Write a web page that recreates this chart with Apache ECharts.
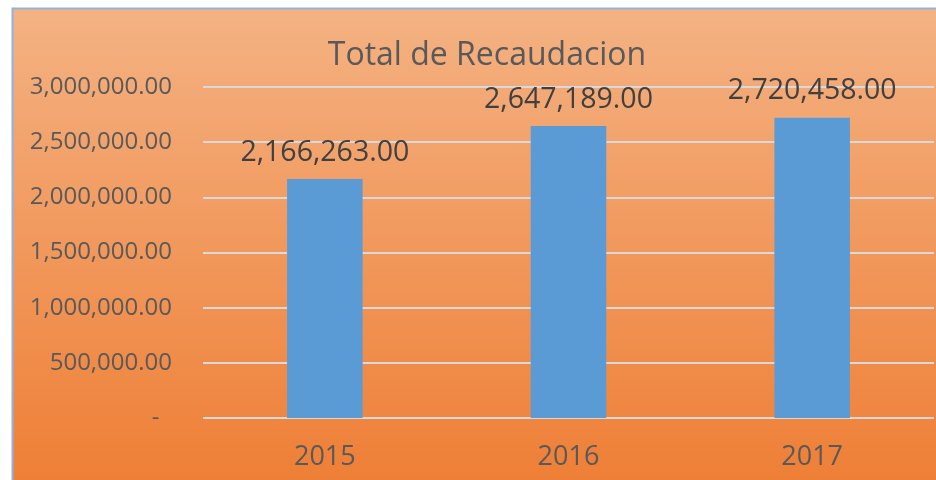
<!DOCTYPE html>
<html>
<head>
<meta charset="utf-8">
<script src="https://cdn.jsdelivr.net/npm/echarts@6/dist/echarts.min.js"></script>
<style>
  html, body { margin: 0; padding: 0; background: #fff; }
  #chart { width: 936px; height: 480px; }
</style>
</head>
<body>
<div id="chart"></div>
<script>
// datos
var years = ['2015', '2016', '2017'];
var recaudacion = [2166263, 2647189, 2720458];
var yMax = 3000000;
var yStep = 500000;

function fmtNum(v) {
    return v.toLocaleString('en-US', { minimumFractionDigits: 2, maximumFractionDigits: 2 });
}

var myChart = echarts.init(document.getElementById('chart'));
var option = {
    animation: false,
    // fondo degradado naranja con borde azul
    graphic: [{
        type: 'rect',
        z: -10,
        silent: true,
        shape: { x: 12.5, y: 8.5, width: 960, height: 490 },
        style: {
            fill: new echarts.graphic.LinearGradient(0, 0, 0, 1, [
                { offset: 0, color: '#f4b283' },
                { offset: 1, color: '#ee7d33' }
            ]),
            stroke: '#8db3e2',
            lineWidth: 2
        }
    }],
    title: {
        text: 'Total de Recaudacion',
        left: 482,
        textAlign: 'center',
        top: 35,
        textStyle: {
            color: '#595959',
            fontFamily: 'Open Sans',
            fontWeight: 'normal',
            fontSize: 32
        }
    },
    grid: {
        left: 203,
        right: 2,
        top: 87,
        bottom: 62
    },
    xAxis: {
        type: 'category',
        data: years,
        axisLine: { show: false },
        axisTick: { show: false },
        axisLabel: {
            color: '#595959',
            fontFamily: 'Open Sans',
            fontSize: 27,
            margin: 26
        }
    },
    yAxis: {
        type: 'value',
        min: 0,
        max: yMax,
        interval: yStep,
        axisLine: { show: false },
        axisTick: { show: false },
        axisLabel: {
            color: '#595959',
            fontFamily: 'Open Sans',
            fontSize: 24,
            margin: 31,
            formatter: function (v) {
                return v === 0 ? '-  ' : fmtNum(v);
            }
        },
        //lineas de la cuadricula
        splitLine: {
            lineStyle: { color: '#d9d9d9', width: 2 }
        }
    },
    series: [{
        type: 'bar',
        data: recaudacion,
        barWidth: '31%',
        itemStyle: { color: '#5b9bd5' },
        label: {
            show: true,
            position: 'top',
            distance: 12,
            color: '#404040',
            fontFamily: 'Open Sans',
            fontSize: 28.5,
            formatter: function (p) { return fmtNum(p.value); }
        }
    }]
};
myChart.setOption(option);
</script>
</body>
</html>
